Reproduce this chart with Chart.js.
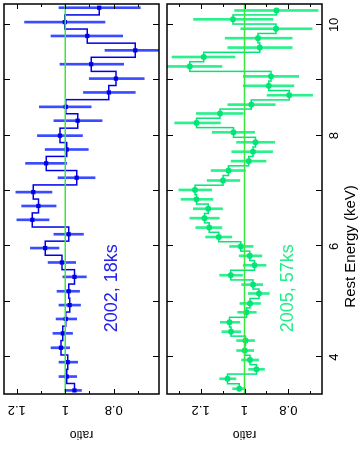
<!DOCTYPE html>
<html>
<head>
<meta charset="utf-8">
<script src="https://cdn.jsdelivr.net/npm/chart.js@4.4.1/dist/chart.umd.min.js"></script>
<style>
  html, body { margin: 0; padding: 0; background: #fff; }
  #page { position: relative; width: 358px; height: 463px; overflow: hidden; }
  /* the plot is drawn in landscape and turned a quarter turn, like the printed figure */
  #land { position: absolute; left: 0; top: 0; width: 463px; height: 358px;
          transform-origin: 0 0; transform: translateY(463px) rotate(-90deg); }
  #land canvas { position: absolute; left: 0; }
</style>
</head>
<body>
<div id="page">
  <div id="land">
    <canvas id="c2002" width="463" height="163" style="top:0"></canvas>
    <canvas id="c2005" width="463" height="195" style="top:163px"></canvas>
  </div>
</div>
<script>
// ---- data ----
const energy2002 = [3.40, 3.65, 3.91, 4.17, 4.43, 4.69, 4.94, 5.19, 5.45, 5.71, 5.97, 6.22, 6.48, 6.73,
                    6.98, 7.24, 7.50, 7.75, 8.00, 8.27, 8.52, 8.78, 9.03, 9.29, 9.54, 9.80, 10.05, 10.31];
const ratio2002 = [0.962, 0.994, 0.990, 1.018, 1.010, 0.998, 0.982, 0.986, 0.962, 1.014, 1.083, 0.986, 1.136, 1.111,
                   1.132, 0.953, 1.079, 0.994, 1.022, 0.949, 0.998, 0.820, 0.791, 0.893, 0.711, 0.909, 1.002, 0.860];
const hi2002 = [1.002, 1.026, 1.026, 1.059, 1.051, 1.038, 1.026, 1.034, 1.010, 1.071, 1.144, 1.047, 1.200, 1.180,
                1.204, 1.030, 1.164, 1.083, 1.115, 1.047, 1.107, 0.925, 0.901, 1.022, 0.836, 1.059, 1.168, 1.026];
const lo2002 = [0.933, 0.953, 0.949, 0.982, 0.970, 0.953, 0.937, 0.941, 0.913, 0.957, 1.026, 0.925, 1.067, 1.038,
                1.055, 0.877, 0.994, 0.905, 0.929, 0.848, 0.893, 0.711, 0.674, 0.759, 0.580, 0.763, 0.836, 0.690];

const energy2005 = [3.43, 3.61, 3.78, 3.95, 4.12, 4.30, 4.46, 4.63, 4.81, 4.97, 5.15, 5.31, 5.48, 5.66,
                    5.83, 6.00, 6.17, 6.34, 6.51, 6.68, 6.85, 7.02, 7.19, 7.37, 7.54, 7.71, 7.88, 8.06,
                    8.23, 8.40, 8.56, 8.73, 8.90, 9.07, 9.25, 9.42, 9.59, 9.76, 9.93, 10.10, 10.26];
const ratio2005 = [1.024, 1.077, 0.945, 0.975, 0.999, 0.996, 1.061, 1.068, 0.991, 0.975, 0.934, 0.961, 1.063, 0.954,
                   0.976, 1.017, 1.117, 1.161, 1.182, 1.165, 1.219, 1.226, 1.098, 1.073, 0.981, 0.961, 0.950, 1.050,
                   1.219, 1.112, 0.969, 0.796, 0.890, 0.879, 1.249, 1.186, 0.930, 0.938, 0.856, 1.052, 0.854];
const hi2005 = [1.054, 1.113, 0.981, 1.013, 1.036, 1.036, 1.103, 1.110, 1.031, 1.021, 0.983, 1.013, 1.113, 1.006,
                1.024, 1.068, 1.177, 1.222, 1.249, 1.233, 1.289, 1.299, 1.170, 1.152, 1.061, 1.058, 1.036, 1.147,
                1.318, 1.219, 1.076, 0.897, 1.006, 1.006, 1.400, 1.330, 1.076, 1.088, 1.017, 1.232, 1.045];
const lo2005 = [0.996, 1.039, 0.909, 0.936, 0.958, 0.954, 1.017, 1.021, 0.946, 0.927, 0.887, 0.917, 1.009, 0.902,
                0.921, 0.961, 1.058, 1.103, 1.115, 1.100, 1.144, 1.150, 1.021, 0.996, 0.902, 0.872, 0.862, 0.954,
                1.110, 1.006, 0.860, 0.690, 0.775, 0.753, 1.103, 1.043, 0.783, 0.783, 0.692, 0.871, 0.665];

const energyTicks = [4, 5, 6, 7, 8, 9, 10];
const energyLabels = [4, 6, 8, 10];
const ratioTicks = [0.6, 0.7, 0.8, 0.9, 1.0, 1.1, 1.2, 1.3];
const ratioLabels = ['0.8', '1', '1.2'];

const E_MIN = 3.335, E_MAX = 10.377;

// frame with inward ticks, tick labels and notes
const framePlugin = {
  id: 'frame',
  afterDraw(chart, args, opts) {
    const { ctx, chartArea: a, scales: { x, y } } = chart;
    ctx.save();
    ctx.strokeStyle = '#000';
    ctx.lineWidth = 1;
    ctx.beginPath();
    energyTicks.forEach(e => {
      const px = Math.round(x.getPixelForValue(e)) + 0.5;
      ctx.moveTo(px, a.top); ctx.lineTo(px, a.top + 6);
      ctx.moveTo(px, a.bottom); ctx.lineTo(px, a.bottom - 6);
    });
    ratioTicks.forEach(r => {
      if (r < y.min || r > y.max) return;
      const len = Math.abs(Math.round(r * 10) % 2) === 0 ? 5 : 3;
      const py = Math.round(y.getPixelForValue(r)) + 0.5;
      ctx.moveTo(a.left, py); ctx.lineTo(a.left + len, py);
      ctx.moveTo(a.right, py); ctx.lineTo(a.right - len, py);
    });
    ctx.stroke();
    ctx.lineWidth = 1.5;
    ctx.strokeRect(a.left, a.top, a.width, a.height);

    ctx.fillStyle = '#000';
    ctx.font = '13px "Liberation Sans", Arial, sans-serif';
    ctx.textAlign = 'center';
    ctx.textBaseline = 'middle';
    ratioLabels.forEach(t => {
      ctx.save();
      ctx.translate(a.left - 16, y.getPixelForValue(parseFloat(t)));
      ctx.rotate(-Math.PI / 2);
      ctx.fillText(t, 0, 0);
      ctx.restore();
    });
    ctx.save();
    ctx.font = '12px "Liberation Sans", Arial, sans-serif';
    ctx.translate(a.left - 40, (a.top + a.bottom) / 2);
    ctx.rotate(-Math.PI / 2);
    ctx.fillText('ratio', 0, 0);
    ctx.restore();

    if (opts.energyAxis) {
      energyLabels.forEach(e => ctx.fillText(String(e), x.getPixelForValue(e), a.bottom + 12));
      ctx.font = '15px "Liberation Sans", Arial, sans-serif';
      ctx.fillText('Rest Energy (keV)', x.getPixelForValue(6.0), a.bottom + 29);
    }

    ctx.fillStyle = opts.noteColor;
    ctx.font = '18px "Liberation Sans", Arial, sans-serif';
    ctx.textAlign = 'left';
    ctx.fillText(opts.note, x.getPixelForValue(4.45), y.getPixelForValue(opts.noteAt));
    ctx.restore();
  }
};

function makeChart(id, energy, ratio, lo, hi, colors, yMin, yMax, pad, frameOpts) {
  const errs = energy.map((e, i) => ({ x: e, y: [lo[i], hi[i]] }));
  const pts = energy.map((e, i) => ({ x: e, y: ratio[i] }));
  return new Chart(document.getElementById(id), {
    type: 'line',
    data: {
      datasets: [
        {
          type: 'line',
          data: [{ x: E_MIN, y: 1 }, { x: E_MAX, y: 1 }],
          borderColor: '#3ce63c',
          borderWidth: 1.5,
          pointRadius: 0,
          order: 0
        },
        {
          type: 'line',
          data: pts,
          stepped: 'middle',
          borderColor: colors.line,
          borderWidth: 1.5,
          pointStyle: colors.marker,
          pointRadius: 3,
          pointBackgroundColor: colors.line,
          pointBorderColor: colors.line,
          pointBorderWidth: 0,
          order: 1
        },
        {
          type: 'bar',
          data: errs,
          backgroundColor: colors.err,
          borderWidth: 0,
          barThickness: 2,
          order: 2
        }
      ]
    },
    options: {
      responsive: false,
      animation: false,
      events: [],
      layout: { padding: pad },
      plugins: { legend: { display: false }, tooltip: { enabled: false }, frame: frameOpts },
      scales: {
        x: { type: 'linear', min: E_MIN, max: E_MAX, offset: false, display: false },
        y: { type: 'linear', min: yMin, max: yMax, beginAtZero: false, display: false }
      }
    },
    plugins: [framePlugin]
  });
}

makeChart('c2002', energy2002, ratio2002, lo2002, hi2002,
  { line: '#0000e6', err: '#3a4cff', marker: 'rect' },
  0.613, 1.253, { left: 69, right: 2, top: 3, bottom: 2 },
  { note: '2002, 18ks', noteColor: '#2222e8', noteAt: 0.808, energyAxis: false });

makeChart('c2005', energy2005, ratio2005, lo2005, hi2005,
  { line: '#00e676', err: '#2bf08c', marker: 'circle' },
  0.647, 1.353, { left: 69, right: 2, top: 1, bottom: 36 },
  { note: '2005, 57ks', noteColor: '#22ee88', noteAt: 0.80, energyAxis: true });
</script>
</body>
</html>
